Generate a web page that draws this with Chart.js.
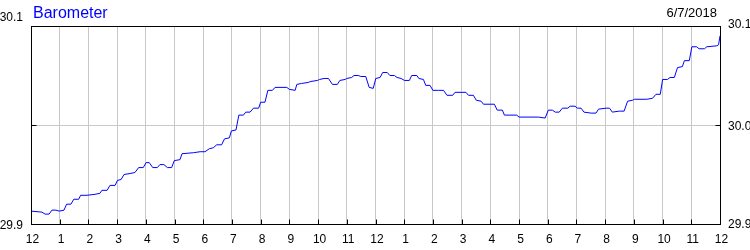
<!DOCTYPE html>
<html>
<head>
<meta charset="utf-8">
<script src="https://cdn.jsdelivr.net/npm/chart.js@4.4.0/dist/chart.umd.min.js"></script>
<style>
body { margin: 0; background: #fff; }
</style>
</head>
<body>
<canvas id="baro" width="750" height="250"></canvas>
<script>
// hours since midnight, and barometer reading (inHg) at that time
var hours = [
    0, 0.38, 0.49, 0.63, 0.73, 0.87, 0.98, 1.15, 1.24, 1.39,
    1.49, 1.66, 1.73, 1.95, 2.23, 2.40, 2.47, 2.65, 2.75, 2.93,
    3.01, 3.14, 3.24, 3.45, 3.62, 3.75, 3.91, 4.01, 4.12, 4.24,
    4.40, 4.49, 4.63, 4.75, 4.90, 4.99, 5.19, 5.26, 5.66, 5.89,
    6.06, 6.21, 6.35, 6.47, 6.64, 6.74, 6.91, 6.98, 7.14, 7.24,
    7.40, 7.48, 7.63, 7.75, 7.93, 8.00, 8.15, 8.25, 8.41, 8.50,
    8.91, 9.00, 9.20, 9.26, 9.43, 9.66, 9.75, 9.98, 10.05, 10.21,
    10.36, 10.50, 10.67, 10.76, 10.94, 11.00, 11.17, 11.25, 11.40, 11.49,
    11.66, 11.78, 11.92, 12.01, 12.16, 12.25, 12.41, 12.50, 12.66, 12.75,
    12.89, 13.01, 13.18, 13.26, 13.44, 13.51, 13.67, 13.75, 13.90, 14.00,
    14.19, 14.37, 14.49, 14.69, 14.77, 15.15, 15.24, 15.41, 15.51, 15.68,
    15.76, 16.14, 16.24, 16.42, 16.49, 16.92, 17.00, 17.68, 17.91, 18.02,
    18.16, 18.26, 18.40, 18.51, 18.70, 18.78, 18.95, 19.03, 19.16, 19.26,
    19.51, 19.68, 19.77, 20.03, 20.15, 20.25, 20.49, 20.66, 20.78, 20.95,
    21.02, 21.45, 21.65, 21.77, 21.92, 22.00, 22.17, 22.26, 22.41, 22.52,
    22.69, 22.76, 22.93, 23.02, 23.19, 23.27, 23.46, 23.54, 23.89, 23.95, 24.0
];
var pressure = [
    29.913, 29.912, 29.910, 29.910, 29.914, 29.914, 29.913, 29.914, 29.920, 29.920,
    29.925, 29.925, 29.929, 29.929, 29.930, 29.931, 29.934, 29.934, 29.939, 29.939,
    29.944, 29.945, 29.950, 29.951, 29.952, 29.957, 29.957, 29.962, 29.962, 29.957,
    29.957, 29.960, 29.960, 29.957, 29.957, 29.964, 29.965, 29.971, 29.972, 29.973,
    29.973, 29.976, 29.977, 29.980, 29.980, 29.986, 29.987, 29.994, 29.995, 30.010,
    30.010, 30.013, 30.013, 30.017, 30.017, 30.023, 30.023, 30.035, 30.035, 30.038,
    30.038, 30.036, 30.035, 30.041, 30.042, 30.043, 30.044, 30.045, 30.046, 30.047,
    30.047, 30.041, 30.041, 30.045, 30.046, 30.047, 30.048, 30.050, 30.050, 30.049,
    30.049, 30.038, 30.037, 30.047, 30.048, 30.053, 30.053, 30.050, 30.050, 30.048,
    30.047, 30.045, 30.045, 30.050, 30.050, 30.047, 30.046, 30.040, 30.040, 30.035,
    30.035, 30.035, 30.030, 30.030, 30.033, 30.033, 30.030, 30.030, 30.025, 30.024,
    30.021, 30.021, 30.015, 30.015, 30.010, 30.010, 30.008, 30.008, 30.007, 30.015,
    30.015, 30.013, 30.013, 30.017, 30.017, 30.019, 30.019, 30.017, 30.017, 30.013,
    30.012, 30.012, 30.016, 30.017, 30.017, 30.013, 30.014, 30.014, 30.024, 30.025,
    30.026, 30.026, 30.027, 30.031, 30.031, 30.046, 30.046, 30.048, 30.048, 30.058,
    30.059, 30.065, 30.065, 30.079, 30.079, 30.077, 30.077, 30.079, 30.080, 30.081, 30.090
];
var hourTicks = [0,1,2,3,4,5,6,7,8,9,10,11,12,13,14,15,16,17,18,19,20,21,22,23,24];
var hourLabels = ['12','1','2','3','4','5','6','7','8','9','10','11',
                  '12','1','2','3','4','5','6','7','8','9','10','11','12'];
var leftTicks = [30.1, 29.9];
var rightTicks = [30.1, 30.0, 29.9];
var title = 'Barometer';
var dateText = '6/7/2018';

var font = '"Liberation Sans", Arial, sans-serif';

function al(p) { return Math.round(p) + 0.5; }

var textPlugin = {
    id: 'baroText',
    afterDraw: function(chart) {
        var ctx = chart.ctx;
        var xs = chart.scales.x, ys = chart.scales.y;
        var l = al(xs.getPixelForValue(0)), r = al(xs.getPixelForValue(24));
        var t = al(ys.getPixelForValue(30.1)), b = al(ys.getPixelForValue(29.9));
        ctx.save();

        // frame
        ctx.strokeStyle = '#000';
        ctx.lineWidth = 1;
        ctx.strokeRect(l, t, r - l, b - t);

        // small inside ticks
        ctx.beginPath();
        for (var i = 0; i < hourTicks.length; i++) {
            var x = al(xs.getPixelForValue(hourTicks[i]));
            ctx.moveTo(x, b);
            ctx.lineTo(x, b - 5);
        }
        var ym = al(ys.getPixelForValue(30.0));
        ctx.moveTo(l, ym); ctx.lineTo(l + 5, ym);
        ctx.moveTo(r, ym); ctx.lineTo(r - 5, ym);
        ctx.stroke();

        // title and date
        ctx.fillStyle = '#0000ff';
        ctx.font = '16px ' + font;
        ctx.textAlign = 'left';
        ctx.textBaseline = 'alphabetic';
        ctx.fillText(title, 33, 18);

        ctx.fillStyle = '#000';
        ctx.font = '13px ' + font;
        ctx.textAlign = 'right';
        ctx.fillText(dateText, 717, 17);

        // x labels
        ctx.font = '12px ' + font;
        ctx.textAlign = 'center';
        for (var j = 0; j < hourTicks.length; j++) {
            ctx.fillText(hourLabels[j], xs.getPixelForValue(hourTicks[j]) + 1.5, 243);
        }

        // left y labels
        ctx.textAlign = 'right';
        for (var k = 0; k < leftTicks.length; k++) {
            var yy = ys.getPixelForValue(leftTicks[k]);
            ctx.fillText(leftTicks[k].toFixed(1), 23, yy + (leftTicks[k] > 30 ? -5.5 : 5));
        }
        // right y labels
        ctx.textAlign = 'left';
        var roff = [1.5, 4.5, 4];
        for (var m = 0; m < rightTicks.length; m++) {
            var y2 = ys.getPixelForValue(rightTicks[m]);
            ctx.fillText(rightTicks[m].toFixed(1), 728, y2 + roff[m]);
        }
        ctx.restore();
    }
};

var ctx = document.getElementById('baro').getContext('2d');

var baroChart = new Chart(ctx, {
    type: 'line',
    data: {
        datasets: [{
            label: title,
            data: hours.map(function(h, i) { return { x: h, y: pressure[i] }; }),
            borderColor: '#0000ff',
            borderWidth: 1,
            pointRadius: 0,
            tension: 0,
            fill: false
        }]
    },
    options: {
        responsive: false,
        animation: false,
        devicePixelRatio: 1,
        layout: { padding: { left: 31, right: 30, top: 26, bottom: 26 } },
        plugins: {
            legend: { display: false },
            tooltip: { enabled: false }
        },
        scales: {
            x: {
                type: 'linear',
                min: 0,
                max: 24,
                afterBuildTicks: function(scale) {
                    scale.ticks = hourTicks.map(function(v) { return { value: v }; });
                },
                ticks: { display: false },
                grid: { color: '#c8c8c8', lineWidth: 1, drawTicks: false },
                border: { display: false }
            },
            y: {
                min: 29.9,
                max: 30.1,
                afterBuildTicks: function(scale) {
                    scale.ticks = rightTicks.map(function(v) { return { value: v }; });
                },
                ticks: { display: false },
                grid: { color: '#c8c8c8', lineWidth: 1, drawTicks: false },
                border: { display: false }
            }
        }
    },
    plugins: [textPlugin]
});
</script>
</body>
</html>
